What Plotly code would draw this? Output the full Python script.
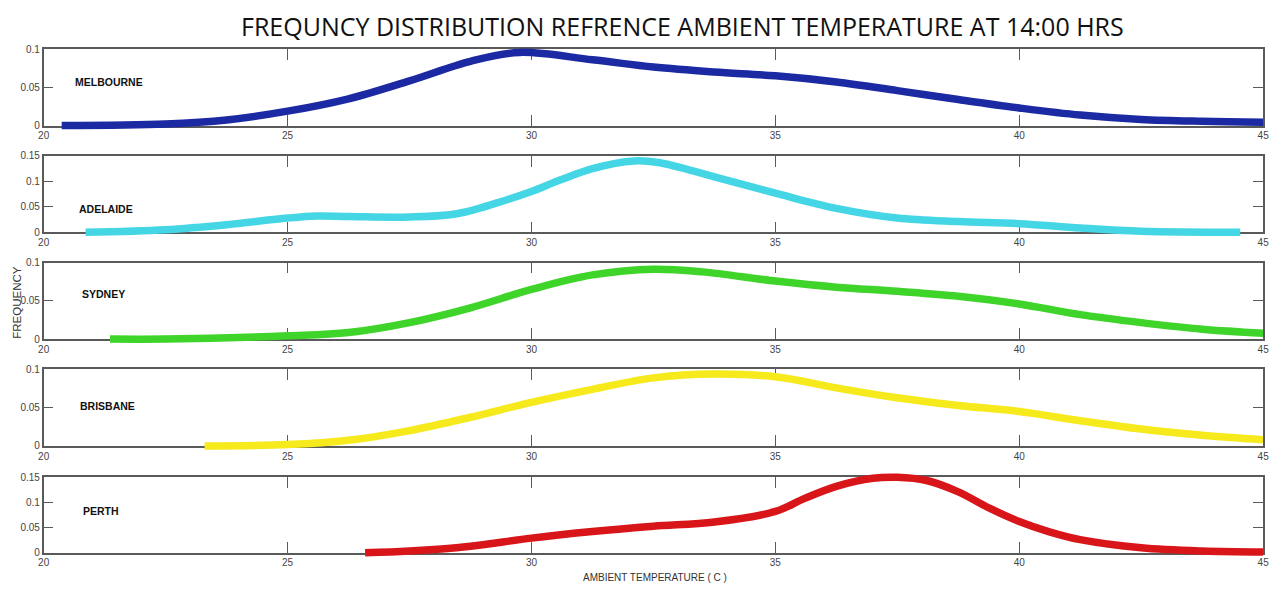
import plotly.graph_objects as go

W, H = 1285, 592

cities = ["MELBOURNE", "ADELAIDE", "SYDNEY", "BRISBANE", "PERTH"]
colors = ["#1b29a3", "#45d6e6", "#3fd42a", "#f6e91c", "#d8161a"]

mel_x = [20.37, 22.5, 23.75, 25, 26.25, 27.5, 28.75, 29.75, 31.25, 32.5, 33.75, 35, 36.25, 37.5, 38.75, 40, 41.25, 42.5, 43.75, 45]
mel_y = [0.0, 0.002, 0.0073, 0.0188, 0.035, 0.0585, 0.084, 0.0957, 0.086, 0.0765, 0.070, 0.065, 0.057, 0.0457, 0.034, 0.023, 0.0137, 0.008, 0.0056, 0.0043]

ade_x = [20.86, 22.5, 23.75, 25, 25.6, 26.25, 27.5, 28.5, 29.5, 30, 30.6, 31.25, 32.1, 32.6, 33.75, 35, 36.25, 37.5, 38.75, 40, 41.25, 42.5, 44.53]
ade_y = [0.0, 0.0052, 0.015, 0.028, 0.032, 0.031, 0.030, 0.037, 0.064, 0.080, 0.103, 0.125, 0.140, 0.137, 0.109, 0.077, 0.047, 0.028, 0.021, 0.017, 0.0084, 0.002, 0.0]

syd_x = [21.36, 22.5, 25, 26.25, 27.5, 28.75, 30, 31.25, 32.5, 33.5, 35, 36.25, 37.5, 38.75, 40, 41.25, 42.5, 43.75, 45]
syd_y = [0.0, 0.0, 0.0043, 0.0086, 0.0216, 0.041, 0.065, 0.084, 0.0915, 0.088, 0.076, 0.068, 0.0625, 0.056, 0.046, 0.032, 0.0216, 0.013, 0.0078]

bri_x = [23.3, 25, 26.25, 27.5, 28.75, 30, 31.25, 32.5, 33.75, 35, 36.25, 37.5, 38.75, 40, 41.25, 42.5, 43.75, 45]
bri_y = [0.0, 0.0017, 0.0073, 0.020, 0.0375, 0.057, 0.074, 0.089, 0.094, 0.0905, 0.076, 0.063, 0.053, 0.045, 0.033, 0.022, 0.0138, 0.008]

per_x = [26.59, 27.5, 28.75, 30, 31.25, 32.5, 33.75, 35, 35.6, 36.25, 37, 37.5, 38.1, 38.75, 39.4, 40, 40.6, 41.25, 42.5, 43.75, 45]
per_y = [0.0, 0.0033, 0.013, 0.029, 0.042, 0.0525, 0.061, 0.082, 0.108, 0.132, 0.148, 0.150, 0.1435, 0.121, 0.088, 0.062, 0.042, 0.026, 0.0098, 0.0033, 0.0013]

series_x = [mel_x, ade_x, syd_x, bri_x, per_x]
series_y = [mel_y, ade_y, syd_y, bri_y, per_y]
y_max = [0.1, 0.15, 0.1, 0.1, 0.15]
y_ticks = [[0, 0.05, 0.1], [0, 0.05, 0.1, 0.15], [0, 0.05, 0.1], [0, 0.05, 0.1], [0, 0.05, 0.1, 0.15]]
y_tick_text = [["0", "0.05", "0.1"], ["0", "0.05", "0.1", "0.15"], ["0", "0.05", "0.1"], ["0", "0.05", "0.1"], ["0", "0.05", "0.1", "0.15"]]
x_ticks = [20, 25, 30, 35, 40, 45]
x_tick_text = ["20", "25", "30", "35", "40", "45"]

title_text = "FREQUNCY DISTRIBUTION REFRENCE AMBIENT TEMPERATURE AT 14:00 HRS"
x_title = "AMBIENT TEMPERATURE ( C )"
y_title = "FREQUENCY"

# layout in pixels
panel_px = [(44, 122), (153, 231), (262, 340), (371, 449), (481, 558)]
x_left, x_right = 38, 1269
label_px = [(68, 78), (72, 207), (75, 294), (73, 408), (76, 515)]
pad = 6

def fy(p):
    return 1 - p / H

def fx(p):
    return p / W

fig = go.Figure()
axis_col = "#5a5a5a"
tick_font = dict(family="Liberation Sans, Arial, sans-serif", size=10, color="#444")

for i in range(5):
    top, bot = panel_px[i]
    n = i + 1
    m = i + 6
    # visible framed axes
    fig.add_trace(go.Scatter(x=[], y=[], xaxis=f"x{n}", yaxis=f"y{n}", showlegend=False))
    fig.layout[f"xaxis{n}"] = dict(
        domain=[fx(x_left), fx(x_right)], anchor=f"y{n}", range=[20, 45],
        tickvals=x_ticks, ticktext=x_tick_text, ticks="inside", ticklen=11, tickwidth=1.2,
        tickcolor=axis_col, showline=True, linecolor=axis_col, linewidth=1.5, mirror="ticks",
        showgrid=False, zeroline=False, tickfont=tick_font, fixedrange=True,
    )
    fig.layout[f"yaxis{n}"] = dict(
        domain=[fy(bot), fy(top)], anchor=f"x{n}", range=[0, y_max[i]],
        tickvals=y_ticks[i], ticktext=y_tick_text[i], ticks="inside", ticklen=10, tickwidth=1.2,
        tickcolor=axis_col, showline=True, linecolor=axis_col, linewidth=1.5, mirror="ticks",
        showgrid=False, zeroline=False, tickfont=tick_font, fixedrange=True,
    )
    # overlay axes with padding so thick curves are not clipped at the frame
    per_px = y_max[i] / (bot - top)
    fig.add_trace(go.Scatter(
        x=series_x[i], y=series_y[i], mode="lines",
        line=dict(color=colors[i], width=7.5, shape="spline", smoothing=1.0),
        xaxis=f"x{m}", yaxis=f"y{m}", showlegend=False, hoverinfo="x+y",
    ))
    fig.layout[f"xaxis{m}"] = dict(
        domain=[fx(x_left), fx(x_right)], anchor=f"y{m}", range=[20, 45], visible=False, fixedrange=True,
    )
    fig.layout[f"yaxis{m}"] = dict(
        domain=[fy(bot + pad), fy(top - pad)], anchor=f"x{m}",
        range=[-pad * per_px, y_max[i] + pad * per_px], visible=False, fixedrange=True,
    )
    lx, ly = label_px[i]
    fig.add_annotation(
        text=f"<b>{cities[i]}</b>", x=fx(lx), y=fy(ly), xref="paper", yref="paper",
        xanchor="left", yanchor="middle", showarrow=False,
        font=dict(family="Liberation Sans, Arial, sans-serif", size=10.5, color="#111"),
    )

fig.add_annotation(
    text=title_text, x=fx(683), y=fy(20), xref="paper", yref="paper",
    xanchor="center", yanchor="middle", showarrow=False,
    font=dict(family="Open Sans, sans-serif", size=25, color="#111"),
)
fig.add_annotation(
    text=x_title, x=fx(655), y=fy(583), xref="paper", yref="paper",
    xanchor="center", yanchor="middle", showarrow=False,
    font=dict(family="Liberation Sans, Arial, sans-serif", size=10, color="#333"),
)
fig.add_annotation(
    text=y_title, x=fx(11), y=fy(302), xref="paper", yref="paper",
    xanchor="center", yanchor="middle", showarrow=False, textangle=-90,
    font=dict(family="Liberation Sans, Arial, sans-serif", size=11.5, color="#333"),
)

fig.update_layout(
    width=W, height=H, margin=dict(l=0, r=0, t=0, b=0),
    paper_bgcolor="white", plot_bgcolor="rgba(0,0,0,0)", showlegend=False,
)

fig.write_html("out.html", config={"displayModeBar": False})
